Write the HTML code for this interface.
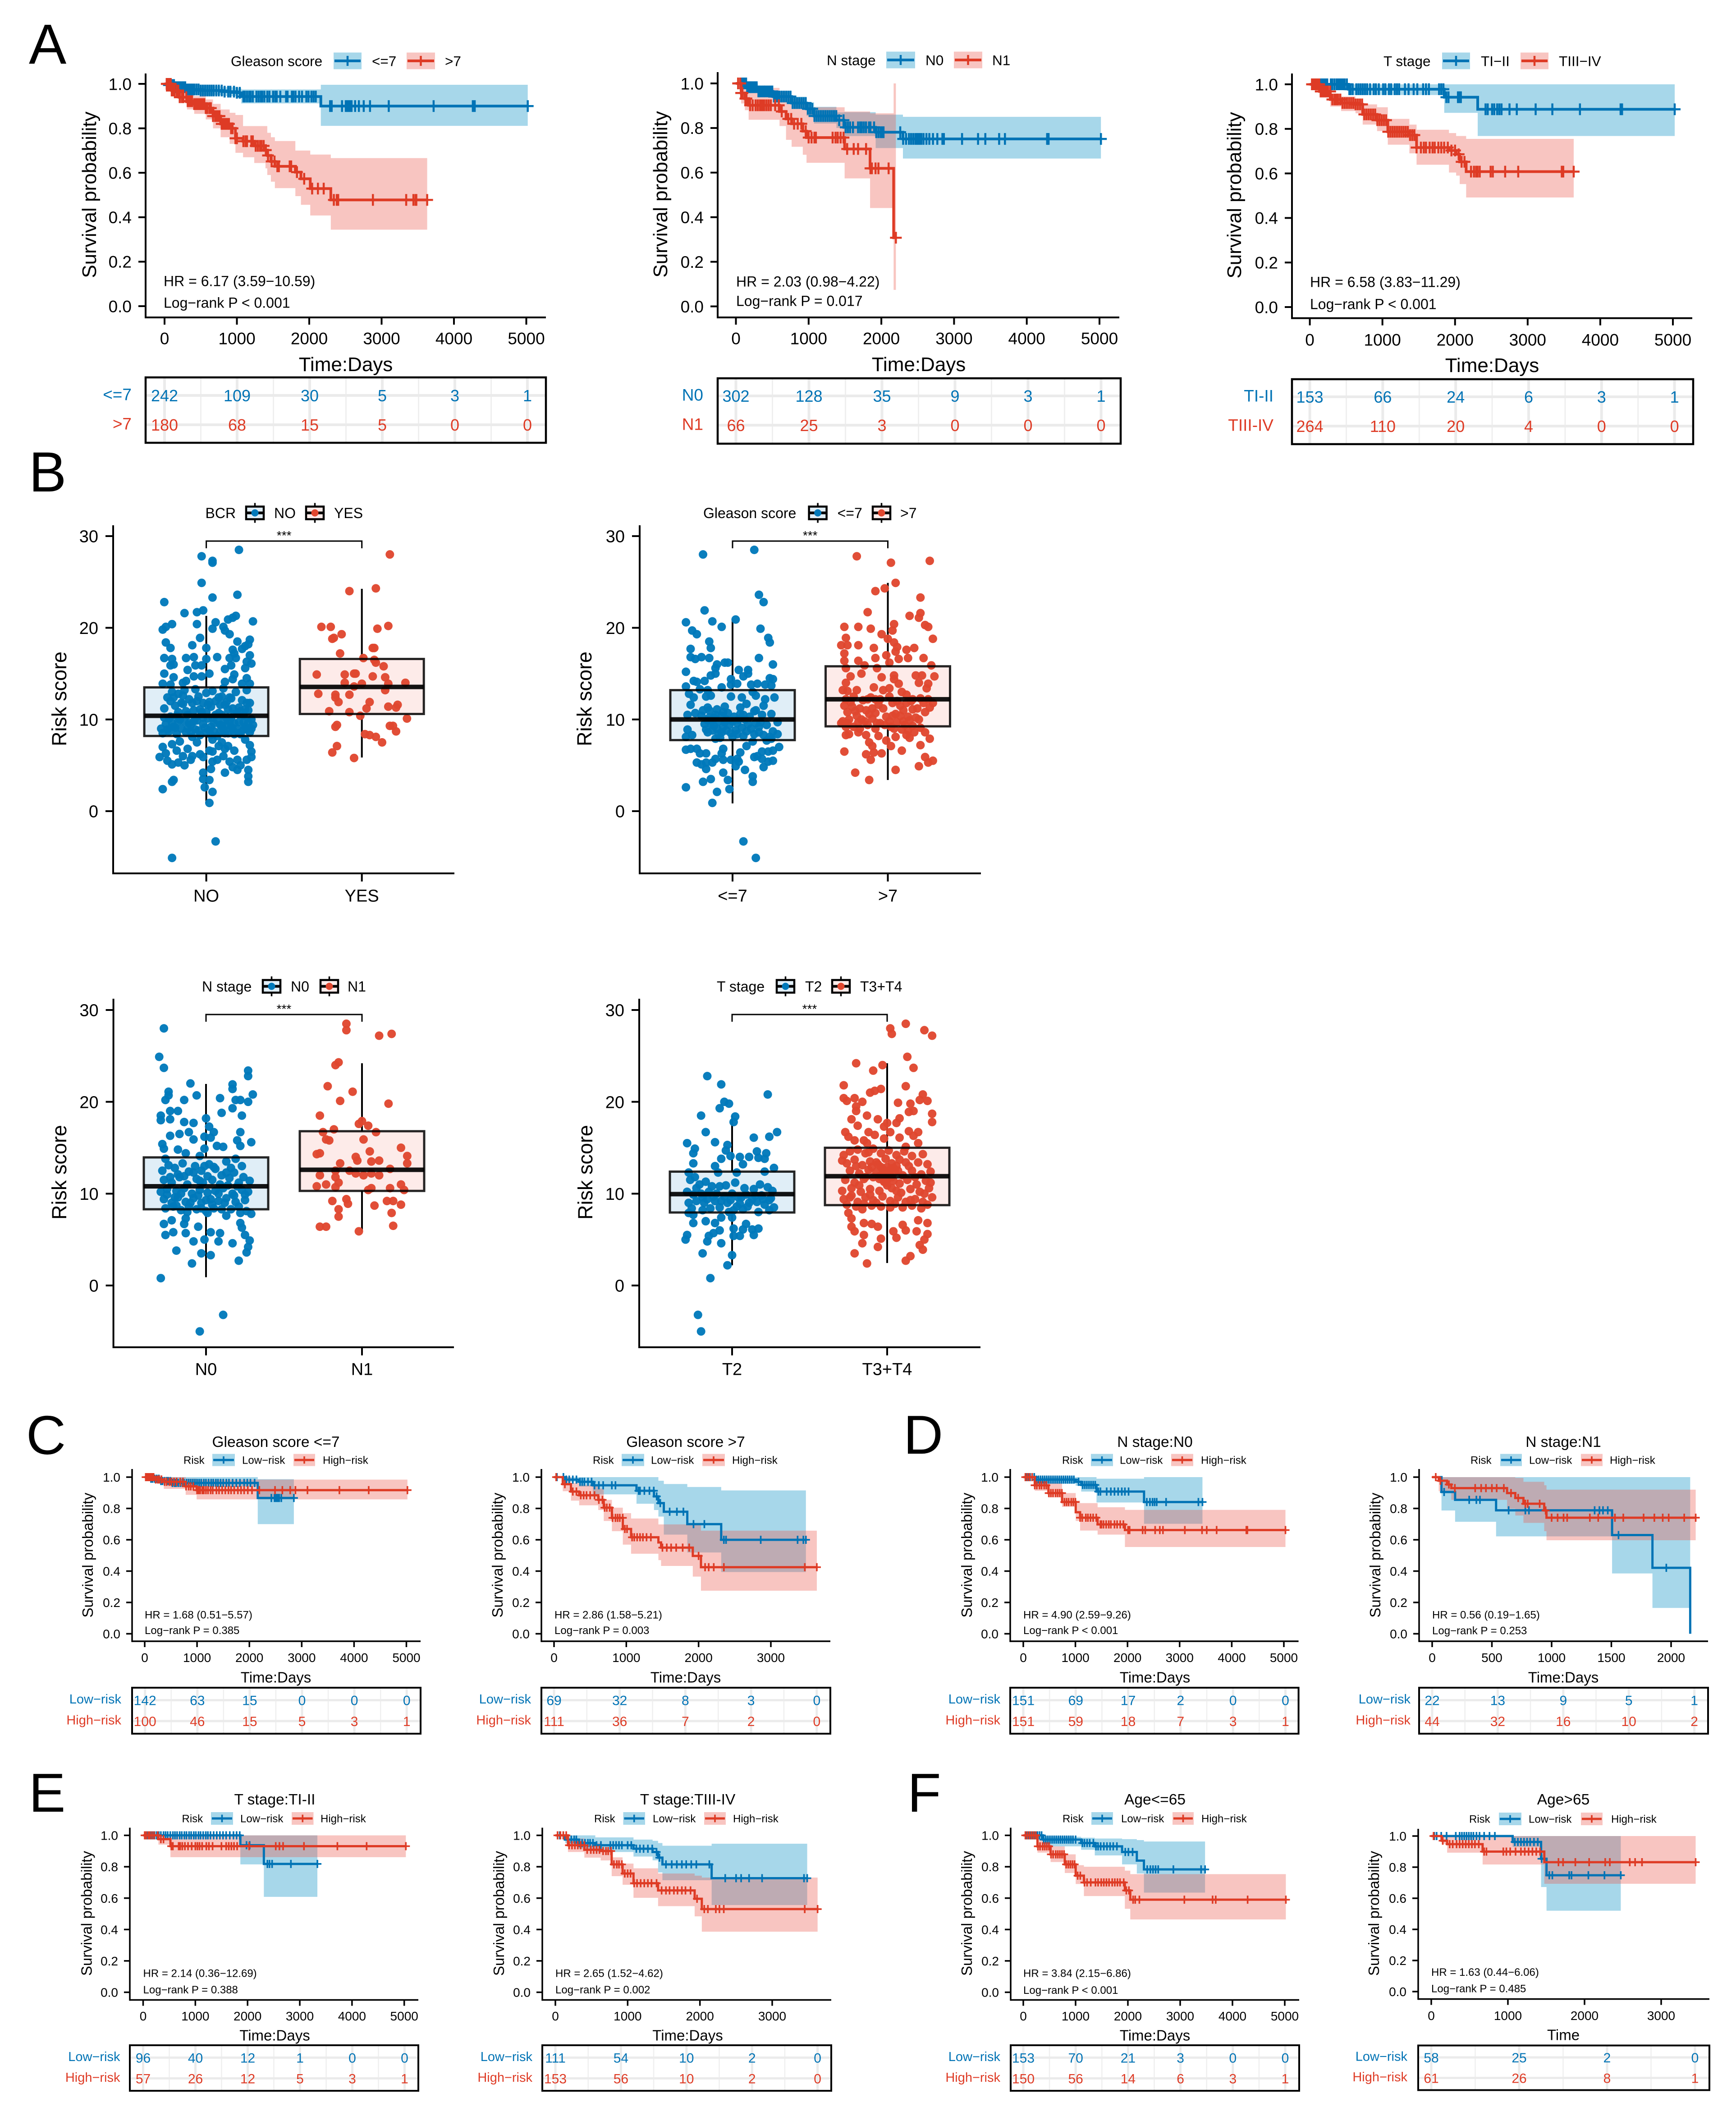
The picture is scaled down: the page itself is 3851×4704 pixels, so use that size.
<!DOCTYPE html>
<html lang="en">
<head>
<meta charset="utf-8">
<title>Survival and risk score figure</title>
<style>
html,body{margin:0;padding:0;background:#fff}
svg{display:block;font-family:"Liberation Sans",Arial,sans-serif}
</style>
</head>
<body>
<svg id="figure" xmlns="http://www.w3.org/2000/svg" width="3851" height="4704" viewBox="0 0 3851 4704">
<rect x="0" y="0" width="3851" height="4704" fill="#ffffff"/>
</svg>
<script>
/* ---------- Panel A data ---------- */
const a1LowT=[0,60,150,300,500,800,1000,1060,2160];
const a1LowS=[1,.995,.985,.975,.97,.965,.96,.943,.90];
const a1LowLo=[1,.985,.97,.955,.95,.945,.94,.912,.811];
const a1LowHi=[1,1,1,.995,.99,.985,.98,.975,.996];
const a1LowC=[60,75,90,110,130,150,170,190,210,235,260,285,310,335,360,385,410,440,470,500,530,560,590,620,650,680,715,750,790,830,880,910,960,1000,1040,1090,1110,1140,1170,1190,1220,1270,1300,1330,1350,1380,1420,1450,1500,1530,1550,1600,1680,1700,1760,1780,1810,1860,1900,1960,1990,2030,2060,2090,2288,2310,2453,2505,2525,2545,2565,2585,2634,2686,2753,2840,3099,3719,4261,4287,5020];
const a1HighT=[0,100,200,310,410,570,670,775,900,980,1085,1240,1395,1420,1470,1525,1808,1885,2014,2298];
const a1HighS=[1,.97,.94,.922,.909,.891,.855,.82,.80,.755,.742,.721,.702,.678,.651,.629,.603,.573,.529,.478];
const a1HighLo=[1,.95,.915,.885,.865,.84,.80,.76,.73,.69,.67,.644,.62,.59,.56,.531,.495,.456,.408,.344];
const a1HighHi=[1,.99,.97,.955,.945,.93,.91,.885,.87,.86,.81,.81,.81,.78,.76,.743,.70,.70,.682,.666];
const a1HighC=[30,50,70,85,100,120,140,170,190,210,240,260,300,320,340,360,380,410,430,450,470,490,510,530,550,570,590,620,640,670,700,720,740,760,790,810,830,850,870,890,920,940,980,1000,1090,1120,1140,1200,1220,1260,1290,1320,1340,1370,1400,1430,1480,1520,1560,1580,1730,1750,1830,1930,2040,2120,2200,2340,2380,2400,2880,3340,3440,3470,3480,3630];
const a1LowN=[242,109,30,5,3,1];
const a1HighN=[180,68,15,5,0,0];

const a2LowT=[0,150,303,509,766,971,1074,1382,1485,1922,2297];
const a2LowS=[1,.983,.964,.941,.912,.886,.854,.835,.803,.781,.751];
const a2LowLo=[1,.965,.94,.915,.885,.855,.82,.80,.764,.71,.663];
const a2LowHi=[1,1,.985,.965,.94,.915,.895,.87,.871,.86,.85];
const a2LowC=[60,70,80,95,110,125,140,155,170,190,205,225,245,265,285,310,330,355,380,400,425,450,475,500,525,550,575,600,630,660,690,720,750,780,810,840,870,900,930,960,990,1020,1050,1080,1110,1140,1170,1200,1230,1260,1290,1320,1350,1380,1420,1480,1510,1540,1570,1610,1680,1710,1730,1760,1790,1830,1850,1900,1930,1960,1990,2010,2030,2260,2300,2340,2380,2410,2440,2470,2490,2510,2530,2550,2580,2620,2660,2710,2770,2840,2860,3110,3330,3430,3620,3700,4280,4290,4300,5020];
const a2HighT=[0,72,123,175,600,689,766,920,971,1495,1845,2169];
const a2HighS=[1,.957,.932,.902,.874,.841,.819,.786,.757,.706,.619,.308];
const a2HighLo=[1,.91,.88,.837,.809,.747,.716,.68,.644,.574,.441,.074];
const a2HighHi=[1,1,.985,.98,.96,.945,.93,.91,.893,.874,.866,1];
const a2HighC=[30,60,72,90,130,145,195,230,270,300,330,350,370,390,420,450,480,540,590,630,720,760,800,850,900,960,1000,1040,1080,1100,1330,1370,1400,1440,1480,1530,1620,1680,1790,1850,1870,1920,1960,2100,2200];
const a2LowN=[302,128,35,9,3,1];
const a2HighN=[66,25,3,0,0,0];

const a3LowT=[0,530,1851,2312];
const a3LowS=[1,.978,.942,.888];
const a3LowLo=[1,.952,.872,.768];
const a3LowHi=[1,1,1,1];
const a3LowC=[60,75,90,105,130,150,170,190,215,240,290,310,340,370,385,400,420,440,460,480,510,545,560,590,640,670,700,730,760,790,830,880,910,950,1010,1040,1090,1120,1170,1200,1230,1310,1360,1430,1480,1560,1600,1640,1780,1810,1840,1880,1910,2040,2060,2080,2420,2450,2510,2540,2580,2610,2640,2750,2850,3110,3340,3720,4280,4300,5025];
const a3HighT=[0,134,282,431,629,728,926,1074,1371,1470,1916,2015,2064,2153];
const a3HighS=[1,.968,.932,.916,.91,.865,.839,.787,.772,.716,.703,.686,.652,.608];
const a3HighLo=[1,.94,.90,.88,.87,.819,.79,.729,.69,.639,.604,.59,.552,.492];
const a3HighHi=[1,.985,.955,.945,.935,.91,.897,.845,.819,.796,.781,.768,.768,.755];
const a3HighC=[30,50,70,85,100,115,130,150,175,200,225,250,280,310,340,365,390,420,450,480,510,540,570,600,630,660,690,720,750,780,810,840,870,900,930,960,990,1020,1050,1080,1110,1140,1170,1200,1230,1260,1290,1320,1350,1380,1410,1440,1470,1530,1570,1600,1650,1690,1720,1770,1810,1850,1900,1950,2000,2050,2090,2130,2220,2260,2290,2310,2340,2490,2520,2690,2870,3470,3490,3634];
const a3LowN=[153,66,24,6,3,1];
const a3HighN=[264,110,20,4,0,0];

/* ---------- Panel C data ---------- */
const c1LowT=[0,100,300,500,2160];
const c1LowS=[1,.99,.975,.963,.867];
const c1LowLo=[1,.98,.955,.94,.70];
const c1LowHi=[1,1,1,1,.987];
const c1LowC=[60,90,120,150,190,230,270,310,340,380,420,450,490,530,570,600,640,680,720,750,800,840,880,920,960,1000,1040,1080,1130,1170,1220,1270,1310,1360,1400,1450,1500,1560,1610,1680,1750,1820,1900,1960,2020,2100,2420,2480,2510,2540,2570,2610,2850];
const c1HighT=[0,200,365,783,992];
const c1HighS=[1,.985,.97,.941,.917];
const c1HighLo=[1,.96,.925,.887,.858];
const c1HighHi=[1,1,1,.99,.984];
const c1HighC=[20,50,80,110,140,170,210,250,280,320,380,420,470,510,560,610,680,730,790,840,880,930,1000,1030,1060,1100,1130,1170,1210,1260,1300,1370,1420,1480,1540,1600,1650,1710,1780,1840,1900,1970,2050,2190,2490,2630,2780,2880,3110,3720,4280,5020];
const c1LowN=[142,63,15,0,0,0];
const c1HighN=[100,46,15,5,3,1];

const c2LowT=[0,159,348,537,1141,1383,1444,1519,1844,2313];
const c2LowS=[1,.984,.97,.948,.913,.877,.834,.779,.70,.60];
const c2LowLo=[1,.97,.94,.89,.83,.79,.748,.633,.519,.394];
const c2LowHi=[1,1,1,1,1,1,.977,.956,.937,.915];
const c2LowC=[40,130,170,210,260,310,360,390,420,470,520,560,620,680,800,850,1170,1190,1250,1320,1380,1420,1470,1600,1700,1790,1930,2080,2350,2380,2860,3370,3450,3485];
const c2HighT=[0,121,234,348,612,688,801,952,1066,1444,1481,1920,2033];
const c2HighS=[1,.955,.908,.884,.855,.805,.74,.669,.616,.583,.55,.497,.425];
const c2HighLo=[1,.91,.85,.82,.79,.72,.655,.569,.511,.47,.433,.365,.275];
const c2HighHi=[1,1,.963,.95,.927,.855,.805,.77,.736,.698,.698,.698,.658];
const c2HighC=[30,150,260,310,370,410,450,500,560,620,670,700,730,770,810,850,880,910,950,980,1010,1080,1110,1150,1190,1230,1280,1340,1500,1560,1620,1690,1780,1870,2000,2090,2140,2210,2350,3470,3636];
const c2LowN=[69,32,8,3,0];
const c2HighN=[111,36,7,2,0];

/* ---------- Panel D data ---------- */
const d1LowT=[0,220,1006,1111,1405,2317];
const d1LowS=[1,.984,.97,.95,.908,.841];
const d1LowLo=[1,.958,.945,.908,.838,.702];
const d1LowHi=[1,1,1,1,.99,1];
const d1LowC=[60,90,130,170,210,250,290,330,370,410,450,490,530,570,610,650,690,730,770,810,850,890,930,970,1060,1140,1180,1220,1260,1300,1340,1380,1440,1480,1600,1680,1750,1820,1890,1950,2020,2370,2430,2480,2520,2560,2740,3360,3438];
const d1HighT=[0,220,482,744,1006,1090,1426,1950];
const d1HighS=[1,.948,.898,.841,.776,.741,.698,.662];
const d1HighLo=[1,.913,.87,.81,.72,.659,.633,.554];
const d1HighHi=[1,.985,.963,.898,.85,.834,.808,.791];
const d1HighC=[40,80,120,170,220,260,310,350,400,440,490,530,570,620,660,700,740,790,830,870,920,960,1000,1090,1130,1200,1240,1290,1340,1400,1480,1500,1540,1590,1640,1680,1750,1800,1860,1920,2010,2040,2290,2340,2530,2620,2680,3100,3430,3520,3710,4280,4300,5031];
const d1LowN=[151,69,17,2,0,0];
const d1HighN=[151,59,18,7,3,1];

const d2LowT=[0,78,192,535,1506,1844,2160];
const d2LowS=[1,.905,.855,.788,.63,.421,0];
const d2LowLo=[1,.787,.715,.622,.385,.165,0];
const d2LowHi=[1,1,1,1,1,1,1];
const d2LowC=[100,310,370,400,640,780,810,1360,1400,1430,1470,1560,1960];
const d2HighT=[0,55,124,160,627,696,764,938,957];
const d2HighS=[1,.977,.953,.93,.898,.867,.83,.787,.741];
const d2HighLo=[1,.91,.898,.855,.798,.755,.708,.655,.597];
const d2HighHi=[1,1,1,1,1,.995,.97,.948,.92];
const d2HighC=[30,70,140,190,360,410,450,500,540,600,660,720,780,800,900,950,1000,1050,1100,1130,1320,1390,1530,1600,1770,1860,1930,1980,2110,2206];
const d2LowN=[22,13,9,5,1];
const d2HighN=[44,32,16,10,2];

/* ---------- Panel E data ---------- */
const e1LowT=[0,1862,2312];
const e1LowS=[1,.937,.818];
const e1LowLo=[1,.815,.608];
const e1LowHi=[1,1,1];
const e1LowC=[60,90,120,150,180,220,260,300,340,390,430,470,520,570,610,650,700,740,790,830,880,920,970,1010,1060,1100,1150,1200,1240,1290,1350,1410,1470,1530,1590,1660,1730,1790,1850,1980,2040,2380,2420,2470,2830,3337];
const e1HighT=[0,293,523];
const e1HighS=[1,.976,.931];
const e1HighLo=[1,.941,.861];
const e1HighHi=[1,1,1];
const e1HighC=[30,60,100,130,170,210,280,340,390,540,570,680,710,750,800,860,930,1000,1040,1080,1130,1210,1260,1330,1500,1590,1640,1690,1740,1800,2030,2540,2610,2680,3080,3720,4280,5031];
const e1LowN=[96,40,12,1,0,0];
const e1HighN=[57,26,12,5,3,1];

const e2LowT=[0,136,325,552,1081,1345,1421,1481,2162];
const e2LowS=[1,.973,.951,.937,.915,.894,.858,.815,.727];
const e2LowLo=[1,.95,.915,.894,.865,.841,.764,.714,.556];
const e2LowHi=[1,1,1,.987,.973,.965,.951,.934,.947];
const e2LowC=[60,110,170,220,260,290,330,370,410,450,480,520,570,630,760,800,840,880,920,1000,1050,1120,1170,1220,1280,1340,1400,1440,1530,1610,1680,1750,1810,1880,1950,2130,2350,2500,2570,2680,2860,3440,3484];
const e2HighT=[0,174,401,627,779,930,1081,1421,1927,2026];
const e2HighS=[1,.937,.908,.90,.815,.757,.695,.649,.596,.53];
const e2HighLo=[1,.894,.858,.84,.74,.685,.602,.549,.484,.386];
const e2HighHi=[1,.98,.95,.91,.86,.82,.79,.757,.743,.731];
const e2HighC=[30,70,110,150,190,230,270,310,350,400,440,490,530,570,610,660,700,730,770,810,850,880,920,960,1000,1040,1090,1130,1180,1230,1280,1330,1400,1470,1530,1580,1640,1690,1750,1800,1870,1960,2060,2110,2220,2270,2330,3450,3628];
const e2LowN=[111,54,10,2,0];
const e2HighN=[153,56,10,2,0];

/* ---------- Panel F data ---------- */
const f1LowT=[0,376,1106,1367,1889,2171,2307];
const f1LowS=[1,.973,.951,.93,.894,.839,.783];
const f1LowLo=[1,.93,.908,.872,.815,.757,.635];
const f1LowHi=[1,.991,.985,.98,.976,.97,.961];
const f1LowC=[60,100,140,180,230,270,310,350,390,430,470,510,550,590,630,670,710,750,790,830,870,910,950,1000,1130,1170,1220,1270,1340,1390,1430,1480,1540,1600,1660,1720,1790,1950,2010,2090,2370,2430,2480,2530,2580,2870,3400,3476];
const f1HighT=[0,271,522,793,1002,1159,1942,2046];
const f1HighS=[1,.93,.879,.815,.743,.70,.649,.59];
const f1HighLo=[1,.89,.83,.76,.69,.613,.532,.464];
const f1HighHi=[1,.975,.93,.879,.81,.80,.775,.753];
const f1HighC=[40,80,120,160,200,240,280,320,370,410,450,490,530,570,620,660,700,740,780,820,860,900,940,980,1040,1090,1170,1220,1290,1380,1430,1490,1540,1590,1640,1700,1750,1800,1850,1920,1970,2020,2100,2140,2220,3080,3620,3680,4290,5021];
const f1LowN=[153,70,21,3,0,0];
const f1HighN=[150,56,14,6,3,1];

const f2LowT=[0,1062,1433,1504];
const f2LowS=[1,.962,.854,.748];
const f2LowLo=[1,.93,.672,.52];
const f2LowHi=[1,1,1,1];
const f2LowC=[40,70,130,200,320,370,400,430,460,490,520,550,590,630,690,760,830,1090,1130,1170,1210,1250,1290,1340,1390,1440,1540,1580,1800,1830,2050,2260,2473];
const f2HighT=[0,135,207,670,1475];
const f2HighS=[1,.97,.948,.90,.832];
const f2HighLo=[1,.95,.893,.817,.693];
const f2HighHi=[1,1,1,1,1];
const f2HighC=[30,150,240,280,330,370,410,450,490,530,570,620,690,720,940,980,1030,1100,1170,1220,1270,1320,1370,1420,1660,1720,1880,2060,2270,2330,2590,2660,2750,3450];
const f2LowN=[58,25,2,0];
const f2HighN=[61,26,8,1];

/* ---------- Panel B data: [jitter % of category spacing, risk score] ---------- */
const bcrNoPoints=[[21,28.5],[-3,27.8],[4,27.3],[4,27.1],[-3,24.9],[20,23.6],[4,23.3],[-27,22.8],[-2,21.9],[-6,21.7],[-14,21.6],[19,21.3],[17,21.1],[14,20.9],[30,20.7],[6,20.6],[-22,20.4],[-6,20.4],[-26,20.1],[-28,19.8],[4,19.9],[11,20.1],[12,19.7],[15,19.3],[-4,18.9],[28,18.7],[20,18.5],[-26,18.4],[27,18.2],[-9,18.1],[25,18],[-23,17.8],[0,17.8],[17,17.6],[23,17.7],[18,17.2],[28,17],[-27,16.7],[-22,16.6],[-13,16.7],[-8,16.8],[0,16.6],[7,16.8],[15,16.7],[19,16.7],[26,16.3],[29,16.1],[-21,16],[-23,15.9],[-7,15.9],[-3,15.9],[16,15.9],[25,15.6],[-12,15.4],[12,15.5],[-27,15],[2,15],[18,14.9],[-8,14.7],[-3,14.7],[-21,14.6],[26,14.5],[-13,14.2],[17,14.4],[12,14.1],[-15,14],[28,13.9],[-28,13.9],[-23,13.8],[23,13.9],
[-29,9],[-28,8.5],[-27,11.2],[-26,9.5],[-25,12.4],[-24,8.7],[-23,10.3],[-22,13],[-21,9.2],[-20,11.5],[-19,8.4],[-18,12.8],[-17,10],[-16,9],[-15,11.7],[-14,13.2],[-13,8.6],[-12,10.5],[-11,12.2],[-10,9.4],[-9,8.1],[-8,11],[-7,13.3],[-6,9.9],[-5,12.5],[-4,8.3],[-3,10.8],[-2,11.8],[-1,9.1],[0,12.9],[1,10.1],[2,8.8],[3,11.4],[4,13.1],[5,9.6],[6,12],[7,8.2],[8,10.7],[9,11.6],[10,9.3],[11,13.4],[12,8.5],[13,10.2],[14,11.1],[15,9.8],[16,12.3],[17,8.9],[18,10.6],[19,13],[20,9],[21,11.3],[22,8.4],[23,12.1],[24,10.4],[25,9.2],[26,13.2],[27,11],[28,8.6],[29,10],[30,9.4],[-24,10.1],[-18,9.8],[-11,9.6],[-7,8.9],[3,9.2],[9,8.7],[13,9.4],[18,8.4],[24,8.9],[-2,10.2],[6,10.5],[12,11.6],[16,10.2],[21,9.7],[26,11.8],[-15,12.6],[-6,12],[1,11.6],[10,12.5],[-21,12.4],
[-27,10.2],[-25,8.9],[-23,12],[-22,9.6],[-20,9.1],[-18,10.8],[-16,11.8],[-14,9.8],[-13,10.9],[-10,8.7],[-9,11.8],[-7,10.2],[-5,8.8],[-4,11.1],[-2,9.5],[0,10.8],[0,8.6],[2,11.9],[4,10.2],[5,8.7],[7,9.9],[8,12.4],[10,10.5],[11,8.9],[12,9.9],[14,8.5],[15,12.4],[16,9.2],[17,11.2],[18,9.6],[20,10.6],[21,8.5],[22,10.9],[24,9.7],[25,11.1],[26,8.9],[27,9.7],[28,11.8],[29,9],[-19,10.4],[-12,9],[-8,9.8],[3,8.3],[9,9.4],[13,11.9],
[-28,7],[-22,7.3],[-17,7.6],[-26,6.3],[-30,5.9],[-19,6.6],[-12,6.8],[-9,6],[-15,6],[-25,5.5],[-22,5.1],[-18,5.3],[-14,5],[-10,5.6],[-4,6.2],[-2,5.9],[2,6.6],[4,6.5],[7,5.6],[4,5.4],[3,4.6],[11,6],[15,5.4],[17,4.8],[22,5],[20,4.5],[12,4.2],[27,4.5],[27,3.8],[27,3.2],[-2,4.2],[-2,3.5],[2,3.4],[-21,3.4],[-22,3.2],[-28,2.4],[-1,2.6],[4,2.1],[2,.9],[6,-3.3],[-22,-5.1],[10,7.5],[14,7.1],[18,6.6],[25,7.8],[28,7.2],[29,6.5],[29,5.9],[26,5.6],[20,5.6],[12,6.8],[8,7.1],[-6,7.5],[4,7.8]];
const bcrYesPoints=[[18,28],[9,24.3],[-8,24],[17,20.2],[-26,20.1],[-20,20.1],[10,19.9],[-13,19.3],[-18,18.9],[-19,18.8],[7,17.8],[8,17.8],[-14,17.2],[1,16.7],[8,16.5],[9,16.2],[14,15.8],[-29,14.9],[-11,14.9],[-5,15],[-4,15],[7,14.7],[15,14.6],[-11,14],[0,13.9],[17,13.9],[28,14],[-5,13.6],[15,13.2],[-28,12.8],[-8,12.7],[-17,12.7],[-17,12.4],[-15,11.9],[5,11.9],[3,11.2],[-21,10.9],[-8,10.8],[17,11.4],[23,11.6],[22,11.3],[-1,10.4],[29,10.1],[-16,9.4],[-17,9.2],[18,9.3],[20,9.3],[22,8.7],[2,8.4],[5,8.3],[9,8.1],[13,7.5],[-16,7.1],[-19,6.4],[-5,5.8]];
const gleasonLowPoints=[[14,28.5],[-19,28],[17,23.6],[20,22.8],[-18,21.9],[2,20.9],[-13,20.7],[-30,20.6],[-7,20.1],[18,19.9],[-26,19.7],[-23,19.3],[23,18.9],[-15,18.5],[24,18.4],[-14,17.8],[-27,17.7],[17,16.7],[-27,16.8],[-24,16.6],[-20,16.8],[-15,16.7],[-5,16.2],[-3,16.2],[26,16],[-10,16],[-11,15.6],[4,15.4],[10,15.4],[-30,15.2],[7,14.7],[10,15],[-11,15],[-14,14.8],[24,14.5],[26,14.4],[-1,14.4],[-18,14.2],[-25,14.2],[-23,14.1],[3,13.9],[-1,13.8],[16,13.9],[12,13.8],[21,13.8],[25,13.7],[-30,13.6],[-7,13.5],[-21,13.3],[-16,13.2],
[-28,12.8],[-25,12.4],[-17,12.5],[-14,12.6],[-1,12.5],[6,12.4],[13,13],[15,12.6],[21,12.2],[27,12.4],[-27,11.6],[-16,11.3],[-15,11],[-5,11.4],[-6,10.8],[5,11.3],[5,10.6],[14,10.9],[15,11],[20,11.5],[-29,10.5],[-24,10.7],[-20,10.4],[-11,10.5],[-7,10.4],[1,10.3],[8,10],[19,10.5],[25,10.6],[-16,9.9],[-14,9.6],[-12,9.3],[-9,9.8],[-5,9.7],[3,9.6],[10,9.5],[18,9.7],[29,9.7],[-29,8.9],[-17,8.9],[-13,8.8],[-7,8.6],[-4,8.8],[-1,8.5],[3,8.4],[7,8.2],[17,8.6],[24,8.1],[29,8.4],[-30,8.1],[-26,8.3],[-11,7.9],[-8,8],[0,8.1],[13,7.6],[22,7.7],[25,7.9],
[-18,9.5],[-16,8.6],[-15,10.2],[-13,9.9],[-12,10.2],[-10,9],[-9,8.4],[-6,9.2],[-4,10],[-2,9.4],[0,9.8],[2,8.8],[4,10],[6,9.1],[7,10.5],[9,8.7],[11,10.3],[12,9],[14,8.4],[15,9.6],[17,9.2],[20,8.3],[22,9.4],[26,8.7],[-3,10.7],[-19,11],[-10,11.1],[9,11.7],
[-30,6.7],[-27,6.8],[-23,6.8],[-21,6.3],[-17,6.3],[-6,6.8],[-7,6.3],[5,6.4],[9,7.1],[19,6.5],[23,6.5],[26,6.6],[30,7],[-23,5.3],[-20,5.1],[-17,5.3],[-13,5.3],[-11,5.7],[-6,5.6],[-1,5.6],[3,5.7],[2,4.9],[4,5.4],[14,5.9],[16,6],[19,5.7],[20,4.8],[23,5.4],[26,5.5],[-17,4.6],[8,4.5],[-6,4.2],[13,3.8],[13,3.2],[-3,3.4],[-14,3.5],[-19,3.2],[-30,2.6],[-2,2.4],[-10,2.1],[-13,.9],[7,-3.3],[15,-5.1]];
const gleasonHighPoints=[[-20,27.8],[2,27.1],[27,27.3],[5,24.9],[-2,24.3],[-8,24],[21,23.3],[-13,21.7],[21,21.6],[14,21.3],[20,21.1],[4,20.4],[24,20.3],[-28,20.1],[-19,20.1],[-11,19.9],[26,20.1],[3,19.7],[-4,19.3],[-27,18.9],[0,18.8],[29,18.8],[4,18.4],[-30,18.1],[-26,18.1],[-19,18.1],[6,17.9],[-9,17.8],[17,17.8],[12,17.6],[5,17.4],[-28,17.2],[-1,17],[23,16.7],[-8,16.7],[7,16.6],[13,16.7],[-28,16.4],[-19,16.4],[1,16.2],[-15,15.9],[28,15.9],[-7,15.6],[-27,15.6],[-17,15],[4,14.8],[-24,14.7],[-4,14.6],[18,14.8],[22,14.8],[30,14.7],[4,14.4],[-27,14],[20,14],[26,13.9],[7,13.9],
[-29,13.2],[-26,13.1],[-20,13.2],[-9,13.5],[-3,13.2],[1,13.4],[9,13],[12,12.7],[25,13.4],[-27,12.2],[-22,12.5],[-16,12.1],[-11,12.4],[-8,12.2],[-5,12.2],[1,12.5],[16,12.2],[21,12.3],[26,12.2],[29,11.8],[-28,11.5],[-23,11.4],[-18,11.2],[-14,11],[-6,11.6],[8,11.5],[12,11.8],[16,11.1],[19,11.2],[24,10.8],[-26,10.8],[-20,10.4],[-8,10.7],[3,10.4],[5,10.6],[13,10.3],[18,10.2],[-29,9.8],[-25,10],[-15,9.8],[-10,10.1],[-5,9.6],[-2,9.4],[6,9.7],[10,9.8],[-30,9.6],[-27,9.2],[-22,9.2],[-18,9],[-8,9],[2,9.2],[9,8.9],[13,8.8],[17,8.6],[21,9.1],
[-24,11.9],[-21,10.9],[-19,9.7],[-17,10],[-13,12.2],[-12,10.6],[-10,11.2],[-7,9.6],[-3,11.2],[-1,10.3],[1,9.8],[3,11.8],[6,12],[8,10.4],[10,11],[11,9.4],[14,9.9],[15,12],[20,10],[23,11.8],[27,11.3],[-26,9.6],[-13,9.4],[4,9],[16,9.3],
[-28,6.5],[9,6.6],[-14,8.3],[-12,7.5],[-10,7.1],[-9,6.4],[-4,6.3],[-14,6.2],[-11,5.6],[2,7.1],[-1,7.7],[21,7.2],[27,7.9],[14,8],[24,5.9],[29,5.5],[26,5.3],[20,4.9],[5,4.5],[-21,4.2],[-12,3.4],[-25,8.4],[-27,8.3],[-19,8.6],[-6,8.2],[5,8.1],[12,8.3],[24,8.6]];
const nstageLowPoints=[[-27,28],[-30,24.9],[-27,23.7],[27,23.4],[27,22.8],[-10,22],[17,21.9],[17,21.4],[-24,21.1],[30,20.8],[-6,20.7],[-24,20.7],[9,20.4],[-26,20.2],[-14,20.2],[19,20.2],[22,20.2],[27,20],[17,19.3],[-18,19],[-23,19],[10,18.8],[23,18.5],[-29,18.5],[-29,18],[-23,18.1],[0,18.2],[-14,17.8],[-8,17.7],[2,17.3],[5,16.7],[-11,16.7],[22,16.7],[-23,16.3],[-17,16.5],[-1,16.2],[-8,15.9],[3,16.1],[29,15.6],[20,15.8],[-28,15.4],[7,15.2],[11,15.1],[22,15.2],[-27,14.9],[-18,14.8],[-1,14.9],[-13,14.4],[-4,14.1],[-26,13.8],[19,13.8],
[-28,12.5],[-24,13.1],[-20,12.8],[-15,13.3],[-11,12.4],[-7,13],[-3,12.5],[2,13.2],[6,12.7],[13,13.5],[18,12.3],[23,13],[-27,11.5],[-22,11.2],[-17,11.8],[-12,11],[-6,11.6],[-2,11.2],[4,11.5],[9,11],[15,11.7],[21,11.2],[28,11.4],[-29,10.2],[-25,10.5],[-19,10.3],[-14,10.6],[-9,10],[-4,10.4],[1,10.1],[6,10.3],[11,10.6],[17,10],[23,10.4],[27,10.2],[-27,9.4],[-22,9],[-18,9.6],[-13,9.1],[-8,9.5],[-3,9],[3,9.4],[8,9.2],[13,9.5],[19,9.1],[25,9.3],[-26,8.4],[-21,8.6],[-16,8.2],[-11,8.6],[-6,8.3],[0,8.1],[5,8.4],[16,8.3],[21,8.6],[26,8.1],[29,7.8],[-12,8],[1,7.9],[22,7.9],
[-25,9.9],[-23,11.8],[-20,9.6],[-18,12.1],[-16,10],[-14,11.9],[-10,9],[-8,12.3],[-5,9.8],[-4,11.4],[-1,13],[0,9.3],[1,11.9],[4,8.8],[5,12.9],[8,10],[10,12],[12,9],[14,10.9],[16,12.8],[18,9.8],[20,10.8],[24,11.8],[25,9.9],[-3,8.4],[10,8.3],[13,12.3],[-19,8.7],
[-27,6.7],[-22,7.1],[-13,7.3],[-14,6.7],[-5,6.4],[13,7.6],[22,6.8],[23,6.3],[-26,5.5],[-21,5.8],[-13,5.7],[3,5.8],[9,5.7],[25,5.5],[28,4.9],[-1,5],[-8,4.8],[8,4.8],[17,4.6],[27,4.2],[-19,3.8],[-3,3.5],[3,3.3],[26,3.6],[21,2.7],[-9,2.4],[-29,.8],[11,-3.2],[-4,-5]];
const nstageHighPoints=[[-10,28.5],[-10,27.8],[11,27.2],[19,27.4],[-15,24.3],[-17,24],[-22,21.7],[-6,21.1],[-14,20.1],[17,19.8],[-27,18.5],[0,17.9],[-2,17.6],[4,17.4],[-18,17],[9,16.7],[-25,16.7],[-23,15.9],[-21,15.8],[1,15.9],[25,15],[5,14.6],[-29,14.3],[-27,14.4],[29,14.1],[-4,14],[-3,13.6],[11,13.6],[6,13.5],[-14,13.3],[29,13.3],[18,12.7],[-17,12.5],[-8,12.5],[-4,12.2],[1,12],[6,12.2],[11,12],[-27,12],[-17,11.8],[-15,11.2],[-23,11],[-29,10.8],[-17,10.7],[6,10.6],[25,11],[18,10.6],[4,10.4],[27,10.4],[-19,9.2],[-10,9.4],[-9,8.9],[16,9.2],[20,9.2],[8,8.7],[25,8.8],[-15,8.3],[19,7.9],[-15,7.5],[20,6.5],[-27,6.4],[-23,6.4],[-2,5.9]];
const tstageLowPoints=[[-16,22.8],[-7,21.9],[23,20.8],[-5,20],[-2,19.8],[-8,19.3],[-20,18.5],[2,18.4],[1,17.8],[29,16.7],[-17,16.7],[24,16.2],[14,16.1],[-11,15.6],[-29,15.5],[-3,15.3],[-24,14.9],[-25,14.4],[-4,14.7],[16,14.6],[22,14.4],[-1,14.1],[5,14],[11,14],[17,13.9],[-7,13.8],[21,13.8],[-25,13.3],[-11,13],[7,13.2],[27,12.8],[21,12.4],[-28,12.3],[-9,12.3],[3,12.3],
[-27,11.5],[-24,11.8],[-21,11],[-17,11.3],[-13,10.8],[-8,10.8],[-4,10.9],[2,11.2],[8,10.6],[14,10.5],[18,11],[23,10.7],[26,10.3],[-29,10.2],[-25,9.9],[-20,10],[-15,10.2],[-10,10],[-5,9.7],[0,10],[4,9.6],[9,9.9],[13,9.4],[19,9.8],[25,9.5],[-28,9],[-23,9.2],[-18,9],[-11,9.2],[-3,9],[5,8.9],[11,9],[16,9.1],[21,8.8],[27,8.5],[-26,8.4],[-19,8.2],[-14,8.4],[-8,8.5],[1,8.2],[7,8.3],[17,8],[24,8.2],[-28,7.9],[-25,7.7],[-2,8],
[-23,10.6],[-19,9.6],[-16,9.4],[-12,9.7],[-7,9.2],[-1,9.3],[3,8.6],[6,9.6],[10,8.6],[15,9.8],[20,9.4],[24,9.3],
[-25,6.8],[-17,7],[-11,6.8],[-7,7.4],[0,7.4],[9,6.7],[1,6.2],[7,6.1],[13,6.1],[17,6.2],[-8,6],[-12,5.7],[-15,5.4],[-29,5.5],[-30,5],[-16,4.8],[1,5.4],[5,5.4],[-7,4.6],[14,5.5],[-19,3.5],[0,3.3],[-3,2.2],[-14,.8],[-22,-3.2],[-20,-5]];
const tstageHighPoints=[[12,28.5],[2,28],[24,27.8],[3,27.4],[29,27.2],[13,24.9],[-20,24.2],[-3,24],[17,23.7],[-9,23.4],[-28,21.8],[12,21.7],[-4,21.4],[-8,21.2],[-11,21],[23,20.8],[-28,20.4],[-21,20.4],[21,20.2],[-26,20.1],[-16,20],[7,19.9],[26,20.1],[-20,19.5],[15,19.8],[17,19],[14,18.9],[-20,19],[29,18.7],[-13,18.5],[-23,18.1],[-6,18.1],[8,18.2],[0,17.7],[6,17.7],[29,17.8],[-19,17.4],[-2,17.3],[-27,16.7],[-12,16.7],[14,16.8],[20,16.7],[2,16.7],[-8,16.4],[-25,16.2],[17,16.3],[8,16.1],[-21,15.8],[-15,15.8],[-2,16],[-13,15.5],[20,15.5],[12,15.1],
[-28,14.2],[-24,14.6],[-19,14.8],[-14,14.4],[-9,14.9],[-4,14.4],[1,14.7],[6,14.2],[11,14.6],[16,14.1],[23,14.3],[-29,13.6],[-26,13.3],[-21,13.7],[-16,13.1],[-11,13.5],[-6,13.2],[-1,13.8],[3,13.3],[8,13.7],[14,13],[20,13.4],[26,13.2],[-24,12.5],[-18,12.2],[-12,12.6],[-7,12.4],[-3,12.7],[0,12.2],[2,12.6],[5,12.4],[10,12],[16,12.5],[22,12.1],[28,12.4],[-27,11.5],[-21,11.2],[-15,11.6],[-9,11.8],[-5,11.6],[-2,11.3],[1,11.7],[4,11.4],[8,11.1],[13,11.5],[19,11],[25,11.4],[-29,10.3],[-23,10.6],[-17,10.2],[-11,10.5],[-5,10.3],[3,10.6],[9,10.1],[15,10.5],[21,10.2],[27,10.6],[-28,9.4],[-24,9.6],[-19,9.1],[-14,9.6],[-9,9.3],[-3,9.7],[2,9.2],[7,9.6],[12,9.1],[18,9.4],[23,9.1],[29,9.6],[-26,8.8],[-20,8.6],[-15,8.9],[-10,8.7],[-4,8.6],[5,8.9],[10,8.5],[16,8.7],[22,8.4],[26,8.8],
[-4,12.9],[-2,12.1],[0,12.9],[1,12.4],[2,12],[3,11.8],[4,12.8],[-5,11.9],[-3,11.7],[-1,11.2],[0,10.9],[6,13],[-7,13.4],[-10,12.9],[7,12.5],[-14,11.8],[-18,10.9],[-23,9.8],[-20,13],[12,13.4],[15,9.3],[-11,9.9],[-7,9],[2,8.5],[-16,8.3],[6,10.3],[18,11.8],[24,10],[28,11.2],[-12,14.5],
[-25,7.9],[-23,7.3],[-15,6.8],[-10,6.7],[-6,6.4],[-23,6.4],[-21,5.9],[-15,5.5],[4,5.9],[12,6],[10,6.6],[20,7.1],[26,6.8],[19,5.9],[26,5.6],[-4,5.1],[6,5.2],[24,5],[-16,4.6],[21,4.4],[-6,4.2],[-21,3.5],[15,3.2],[23,3.9],[-13,2.4],[12,2.7]];

/* box statistics: [whisker low, q1, median, q3, whisker high] */
const bcrNoStats=[.85,8.2,10.4,13.5,21.3];
const bcrYesStats=[5.85,10.6,13.55,16.6,24.25];
const gleasonLowStats=[.85,7.75,10,13.2,20.9];
const gleasonHighStats=[3.4,9.25,12.2,15.8,24.9];
const nstageLowStats=[.9,8.3,10.8,13.95,21.95];
const nstageHighStats=[5.9,10.3,12.6,16.8,24.2];
const tstageLowStats=[2.2,7.95,9.95,12.4,18.5];
const tstageHighStats=[2.45,8.75,11.9,15,24.2];

const yTicksSurv=[0,.2,.4,.6,.8,1];
const yTicksRisk=[0,10,20,30];
const xTicks5000=[0,1000,2000,3000,4000,5000];
const xTicks3000=[0,1000,2000,3000];
const xTicks2000=[0,500,1000,1500,2000];

/* ---------- Drawing helpers ---------- */
const NS='http://www.w3.org/2000/svg';
const root=document.getElementById('figure');
const BLUE='#0073B5',RED='#DE3B25',BLUE_BAND='#038CC3',RED_BAND='#EB5A4E';
const KEY_BLUE='#A7D7EA',KEY_RED='#F8C5C1';
const BIG={tick:37,title:44,leg:31.5,hr:32,tab:36,tabLabel:37,curve:6,cens:4.5,arm:13,axis:4,tickLen:16,frame:4.5,gap:31,major:6,minor:3};
const SMALL={tick:28,title:33,leg:24,hr:24,tab:30,tabLabel:29,curve:5,cens:3.6,arm:9,axis:3.5,tickLen:13,frame:4,gap:26,major:5,minor:2.5};

function mk(tag,attrs,parent){
  const e=document.createElementNS(NS,tag);
  for(const k in attrs)e.setAttribute(k,attrs[k]);
  parent.appendChild(e);
  return e;
}
function txt(parent,name,str,x,y,size,anchor,fill,rot){
  const bx=rot?x+.36*size:x, by=rot?y:y+.36*size;
  const e=mk('text',{x:bx,y:by,'font-size':size,'text-anchor':anchor||'start',fill:fill||'#000'},parent);
  if(rot)e.setAttribute('transform','rotate(-90 '+bx+' '+by+')');
  
  
  e.textContent=str;
  return e;
}
function ln(parent,name,x1,y1,x2,y2,w,col){
  const e=mk('line',{x1:x1,y1:y1,x2:x2,y2:y2,stroke:col||'#000','stroke-width':w},parent);
  
  
  return e;
}
function stepLine(t,s,end,xs,ys){
  let d='M'+xs(t[0])+' '+ys(s[0]);
  for(let i=1;i<t.length;i++)d+='H'+xs(t[i])+'V'+ys(s[i]);
  return d+'H'+xs(end);
}
function stepBand(t,lo,hi,end,xs,ys){
  let d='M'+xs(t[0])+' '+ys(hi[0]);
  for(let i=1;i<t.length;i++)d+='H'+xs(t[i])+'V'+ys(hi[i]);
  d+='H'+xs(end)+'V'+ys(lo[lo.length-1]);
  for(let i=t.length-1;i>0;i--)d+='H'+xs(t[i])+'V'+ys(lo[i-1]);
  return d+'H'+xs(t[0])+'Z';
}
function survAt(t,s,c){
  let v=s[0];
  for(let i=0;i<t.length;i++)if(t[i]<=c)v=s[i];
  return v;
}
function drawCurve(g,cv,col,st,xs,ys,lastEnd){
  const p=mk('path',{d:stepLine(cv.t,cv.s,lastEnd,xs,ys),fill:'none',stroke:col,'stroke-width':st.curve},g);
  
  
}
function drawCensors(g,cv,col,st,xs,ys){
  cv.c.forEach(function(c){
    const X=xs(c),Y=ys(survAt(cv.t,cv.s,c));
    const m=mk('path',{d:'M'+(X-st.arm)+' '+Y+'H'+(X+st.arm)+'M'+X+' '+(Y-st.arm)+'V'+(Y+st.arm),fill:'none',stroke:col,'stroke-width':st.cens},g);
    
    
  });
}
function drawKmKey(g,x0,x1,yc,h,bandCol,lineCol,st){
  const r=mk('rect',{x:x0,y:yc-h/2,width:x1-x0,height:h,fill:bandCol},g);
  
  
  ln(g,'legend-key-line',x0+2,yc,x1-2,yc,st.curve,lineCol);
  ln(g,'legend-key-cross',(x0+x1)/2,yc-h*.3,(x0+x1)/2,yc+h*.3,st.cens,lineCol);
}
function drawKM(p){
  const st=p.style;
  const g=mk('g',{},root);
  
  
  const xs=function(t){return p.x0+t*(p.xMax-p.x0)/p.tMax;};
  const ys=function(s){return p.y0+s*(p.y1-p.y0);};

  [[p.low,BLUE_BAND],[p.high,RED_BAND]].forEach(function(o){
    const end=Math.max(o[0].t[o[0].t.length-1],o[0].c[o[0].c.length-1]);
    const b=mk('path',{d:stepBand(o[0].t,o[0].lo,o[0].hi,end,xs,ys),fill:o[1],'fill-opacity':.35},g);
    
    
  });
  [[p.low,BLUE],[p.high,RED]].forEach(function(o){
    const end=Math.max(o[0].t[o[0].t.length-1],o[0].c[o[0].c.length-1]);
    drawCurve(g,o[0],o[1],st,xs,ys,end);
    drawCensors(g,o[0],o[1],st,xs,ys);
  });

  ln(g,'y-axis-line',p.L,p.T,p.L,p.B+st.axis/2,st.axis);
  ln(g,'x-axis-line',p.L,p.B,p.R,p.B,st.axis);
  yTicksSurv.forEach(function(v){
    ln(g,'y-tick',p.L-st.tickLen,ys(v),p.L,ys(v),st.axis);
    txt(g,'y-tick-label',v.toFixed(1),p.L-st.gap,ys(v),st.tick,'end');
  });
  p.xTicks.forEach(function(v){
    ln(g,'x-tick',xs(v),p.B,xs(v),p.B+st.tickLen,st.axis);
    txt(g,'x-tick-label',String(v),xs(v),p.tickY,st.tick,'middle');
  });
  txt(g,'y-axis-title','Survival probability',p.ylabX,p.ylabY,st.title,'middle','#000',true);
  txt(g,'x-axis-title',p.xlab||'Time:Days',p.xlabX,p.xlabY,st.title,'middle');
  txt(g,'hazard-ratio-text',p.hr,p.hrX,p.hrY,st.hr);
  txt(g,'log-rank-text',p.logrank,p.hrX,p.logY,st.hr);
  if(p.title)txt(g,'panel-title',p.title,p.xlabX,p.titleY,33.5,'middle');

  /* legend */
  const lg=p.legend;
  txt(g,'legend-title',lg.title,lg.titleX,lg.y,st.leg);
  drawKmKey(g,lg.k1[0],lg.k1[1],lg.y,lg.h,KEY_BLUE,BLUE,st);
  txt(g,'legend-entry-low',lg.t1,lg.t1X,lg.y,st.leg);
  drawKmKey(g,lg.k2[0],lg.k2[1],lg.y,lg.h,KEY_RED,RED,st);
  txt(g,'legend-entry-high',lg.t2,lg.t2X,lg.y,st.leg);

  /* risk table */
  const tb=p.table;
  const tg=mk('g',{},g);
  
  
  const colX=function(i){return tb.col0+i*tb.step;};
  tb.low.forEach(function(_,i){
    ln(tg,'table-grid-major',colX(i),tb.T,colX(i),tb.B,st.major,'#EBEBEB');
    if(colX(i)+tb.step/2<p.tR)ln(tg,'table-grid-minor',colX(i)+tb.step/2,tb.T,colX(i)+tb.step/2,tb.B,st.minor,'#EFEFEF');
  });
  tb.rows.forEach(function(r){ln(tg,'table-grid-row',p.L,r,p.tR,r,st.major,'#EBEBEB');});
  const fr=mk('rect',{x:p.L,y:tb.T,width:p.tR-p.L,height:tb.B-tb.T,fill:'none',stroke:'#000','stroke-width':st.frame},tg);
  
  
  txt(tg,'risk-table-label-low',tb.labels[0],tb.labelEnd,tb.rows[0]-3,st.tabLabel,'end',BLUE);
  txt(tg,'risk-table-label-high',tb.labels[1],tb.labelEnd,tb.rows[1]-3,st.tabLabel,'end',RED);
  tb.low.forEach(function(v,i){txt(tg,'risk-table-count-low',String(v),colX(i),tb.rows[0],st.tab,'middle',BLUE);});
  tb.high.forEach(function(v,i){txt(tg,'risk-table-count-high',String(v),colX(i),tb.rows[1],st.tab,'middle',RED);});
}
function drawBox(p){
  const g=mk('g',{},root);
  
  
  const ys=function(v){return p.y0+v*(p.y30-p.y0)/30;};
  const groups=[
    {cx:p.cats[0],pts:p.pts[0],st:p.stats[0],dot:'#0079BA',fill:'#E0EEF7',lab:p.labels[0]},
    {cx:p.cats[1],pts:p.pts[1],st:p.stats[1],dot:'#E0472F',fill:'#FDEBE9',lab:p.labels[1]}];
  const sp=p.cats[1]-p.cats[0];
  groups.forEach(function(o){
    const b=mk('rect',{x:o.cx-p.hw,y:ys(o.st[3]),width:2*p.hw,height:ys(o.st[1])-ys(o.st[3]),fill:o.fill},g);
    
    
    ln(g,'whisker-upper',o.cx,ys(o.st[4]),o.cx,ys(o.st[3]),4);
    ln(g,'whisker-lower',o.cx,ys(o.st[1]),o.cx,ys(o.st[0]),4);
    o.pts.forEach(function(q){
      const c=mk('circle',{cx:o.cx+q[0]/100*sp,cy:ys(q[1]),r:9.5,fill:o.dot,'fill-opacity':.96},g);
      
      
    });
    const r=mk('rect',{x:o.cx-p.hw,y:ys(o.st[3]),width:2*p.hw,height:ys(o.st[1])-ys(o.st[3]),fill:'none',stroke:'#000','stroke-width':5,'stroke-opacity':.85},g);
    
    
    ln(g,'box-median',o.cx-p.hw,ys(o.st[2]),o.cx+p.hw,ys(o.st[2]),10).setAttribute('stroke-opacity','.92');
    ln(g,'x-tick',o.cx,p.B,o.cx,p.B+18,4);
    txt(g,'x-tick-label',o.lab,o.cx,p.labelY,38,'middle');
  });
  ln(g,'y-axis-line',p.L,p.T,p.L,p.B+2,4);
  ln(g,'x-axis-line',p.L,p.B,p.R,p.B,4);
  yTicksRisk.forEach(function(v){
    ln(g,'y-tick',p.L-17,ys(v),p.L,ys(v),4);
    txt(g,'y-tick-label',String(v),p.L-33,ys(v),38,'end');
  });
  txt(g,'y-axis-title','Risk score',p.ylabX,p.ylabY,45,'middle','#000',true);
  const br=mk('path',{d:'M'+p.cats[0]+' '+(p.bracketY+16)+'V'+p.bracketY+'H'+p.cats[1]+'V'+(p.bracketY+16),fill:'none',stroke:'#000','stroke-width':3},g);
  
  
  txt(g,'significance-stars','***',(p.cats[0]+p.cats[1])/2,p.bracketY-13,28,'middle');

  const lg=p.legend;
  txt(g,'legend-title',lg.title,lg.titleX,lg.y,32);
  [[lg.k1,'#E0EEF7','#0079BA',lg.t1,lg.t1X],[lg.k2,'#FDEBE9','#E0472F',lg.t2,lg.t2X]].forEach(function(o){
    const cx=o[0]+19.5;
    ln(g,'legend-key-whisker',cx,lg.y-22,cx,lg.y+22,3.5);
    const r=mk('rect',{x:o[0],y:lg.y-14,width:39,height:28,fill:o[1],stroke:'#000','stroke-width':4.5},g);
    
    
    ln(g,'legend-key-median',o[0],lg.y,o[0]+39,lg.y,6);
    const c=mk('circle',{cx:cx,cy:lg.y,r:8,fill:o[2]},g);
    
    
    txt(g,'legend-entry',o[3],o[4],lg.y,32);
  });
}
function cv(t,s,lo,hi,c){return {t:t,s:s,lo:lo,hi:hi,c:c};}

/* ---------- Panel letters ---------- */
[['A',64,141,125],['B',64,1090,125],['C',58,3225,122],['D',2004,3224,122],['E',64,4018,122],['F',2013,4018,122]].forEach(function(o){
  const e=mk('text',{x:o[1],y:o[2],'font-size':o[3],fill:'#000'},root);
  
  
  e.textContent=o[0];
});

/* ---------- Panel A ---------- */
drawKM({name:'km-gleason-score',style:BIG,L:323,T:163,B:704,R:1211,tR:1211,x0:365,xMax:1167.5,tMax:5000,y1:186,y0:679,xTicks:xTicks5000,tickY:750,xlabX:767,xlabY:807,ylabX:197,ylabY:432,
  hr:'HR = 6.17 (3.59−10.59)',logrank:'Log−rank P < 0.001',hrX:363,hrY:623,logY:671,
  low:cv(a1LowT,a1LowS,a1LowLo,a1LowHi,a1LowC),high:cv(a1HighT,a1HighS,a1HighLo,a1HighHi,a1HighC),
  legend:{y:135,h:37,title:'Gleason score',titleX:512,k1:[740,802],t1:'<=7',t1X:825,k2:[902,965],t2:'>7',t2X:987},
  table:{T:837,B:982,rows:[877,942],col0:365,step:161,labels:['<=7','>7'],labelEnd:292,low:a1LowN,high:a1HighN}});
drawKM({name:'km-n-stage',style:BIG,L:1592,T:160,B:704,R:2483,tR:2486,x0:1632.5,xMax:2439,tMax:5000,y1:185,y0:679.5,xTicks:xTicks5000,tickY:750,xlabX:2038,xlabY:807,ylabX:1464,ylabY:431,
  hr:'HR = 2.03 (0.98−4.22)',logrank:'Log−rank P = 0.017',hrX:1633,hrY:624,logY:667,
  low:cv(a2LowT,a2LowS,a2LowLo,a2LowHi,a2LowC),high:cv(a2HighT,a2HighS,a2HighLo,a2HighHi,a2HighC),
  legend:{y:133,h:37,title:'N stage',titleX:1834,k1:[1966,2030],t1:'N0',t1X:2053,k2:[2116,2179],t2:'N1',t2X:2201},
  table:{T:839,B:984,rows:[878,943],col0:1632.5,step:162,labels:['N0','N1'],labelEnd:1560,low:a2LowN,high:a2HighN}});
drawKM({name:'km-t-stage',style:BIG,L:2866,T:163,B:705.6,R:3754,tR:3756,x0:2905.6,xMax:3711,tMax:5000,y1:187,y0:681,xTicks:xTicks5000,tickY:753,xlabX:3310,xlabY:809,ylabX:2737,ylabY:433,
  hr:'HR = 6.58 (3.83−11.29)',logrank:'Log−rank P < 0.001',hrX:2906,hrY:625,logY:674,
  low:cv(a3LowT,a3LowS,a3LowLo,a3LowHi,a3LowC),high:cv(a3HighT,a3HighS,a3HighLo,a3HighHi,a3HighC),
  legend:{y:135,h:37,title:'T stage',titleX:3069,k1:[3199,3261],t1:'TI−II',t1X:3285,k2:[3373,3435],t2:'TIII−IV',t2X:3458},
  table:{T:841,B:985,rows:[880,945],col0:2905.6,step:161.8,labels:['TI-II','TIII-IV'],labelEnd:2825,low:a3LowN,high:a3HighN}});

/* ---------- Panel B ---------- */
drawBox({name:'box-bcr',L:251,T:1165,B:1937,R:1008,y30:1189,y0:1799,cats:[457.6,802.7],hw:137.5,labels:['NO','YES'],labelY:1986,ylabX:131,ylabY:1550,bracketY:1200,
  pts:[bcrNoPoints,bcrYesPoints],stats:[bcrNoStats,bcrYesStats],
  legend:{y:1137.5,title:'BCR',titleX:455.5,k1:546,t1:'NO',t1X:608,k2:679,t2:'YES',t2X:741}});
drawBox({name:'box-gleason-score',L:1419,T:1165,B:1937,R:2176,y30:1189,y0:1799,cats:[1625,1969.5],hw:138,labels:['<=7','>7'],labelY:1986,ylabX:1296,ylabY:1550,bracketY:1200,
  pts:[gleasonLowPoints,gleasonHighPoints],stats:[gleasonLowStats,gleasonHighStats],
  legend:{y:1137.5,title:'Gleason score',titleX:1560,k1:1794.6,t1:'<=7',t1X:1857.6,k2:1936,t2:'>7',t2X:1997}});
drawBox({name:'box-n-stage',L:251.6,T:2215,B:2988,R:1007,y30:2240,y0:2851,cats:[457,803],hw:138,labels:['N0','N1'],labelY:3036,ylabX:131,ylabY:2600,bracketY:2250,
  pts:[nstageLowPoints,nstageHighPoints],stats:[nstageLowStats,nstageHighStats],
  legend:{y:2187.5,title:'N stage',titleX:448,k1:583,t1:'N0',t1X:645,k2:711,t2:'N1',t2X:771}});
drawBox({name:'box-t-stage',L:1418,T:2215,B:2988,R:2175,y30:2240,y0:2851,cats:[1624,1968],hw:138,labels:['T2','T3+T4'],labelY:3036,ylabX:1298,ylabY:2600,bracketY:2250,
  pts:[tstageLowPoints,tstageHighPoints],stats:[tstageLowStats,tstageHighStats],
  legend:{y:2187.5,title:'T stage',titleX:1590,k1:1723,t1:'T2',t1X:1786,k2:1846,t2:'T3+T4',t2X:1908}});

/* ---------- Panels C and D ---------- */
const riskLabels=['Low−risk','High−risk'];
drawKM({name:'km-gleason-low',style:SMALL,title:'Gleason score <=7',titleY:3197,L:293,T:3258,B:3640,R:933,tR:933,x0:321,xMax:901.5,tMax:5000,y1:3276,y0:3623.4,xTicks:xTicks5000,tickY:3676,xlabX:612,xlabY:3719.5,ylabX:194,ylabY:3449,
  hr:'HR = 1.68 (0.51−5.57)',logrank:'Log−rank P = 0.385',hrX:321,hrY:3581,logY:3615.5,
  low:cv(c1LowT,c1LowS,c1LowLo,c1LowHi,c1LowC),high:cv(c1HighT,c1HighS,c1HighLo,c1HighHi,c1HighC),
  legend:{y:3238,h:27,title:'Risk',titleX:407,k1:[471,521],t1:'Low−risk',t1X:537,k2:[651,699],t2:'High−risk',t2X:716},
  table:{T:3743,B:3845,rows:[3770.6,3817],col0:321.7,step:116.1,labels:riskLabels,labelEnd:269,low:c1LowN,high:c1HighN}});
drawKM({name:'km-gleason-high',style:SMALL,title:'Gleason score >7',titleY:3197,L:1201,T:3258,B:3640,R:1842,tR:1842,x0:1229,xMax:1710,tMax:3000,y1:3276,y0:3623.4,xTicks:xTicks3000,tickY:3676,xlabX:1521,xlabY:3719.5,ylabX:1103,ylabY:3449,
  hr:'HR = 2.86 (1.58−5.21)',logrank:'Log−rank P = 0.003',hrX:1230,hrY:3581,logY:3615.5,
  low:cv(c2LowT,c2LowS,c2LowLo,c2LowHi,c2LowC),high:cv(c2HighT,c2HighS,c2HighLo,c2HighHi,c2HighC),
  legend:{y:3238,h:27,title:'Risk',titleX:1315,k1:[1379,1429],t1:'Low−risk',t1X:1444,k2:[1558,1608],t2:'High−risk',t2X:1624},
  table:{T:3743,B:3845,rows:[3770.6,3817],col0:1229,step:145.7,labels:riskLabels,labelEnd:1178,low:c2LowN,high:c2HighN}});
drawKM({name:'km-n-stage-n0',style:SMALL,title:'N stage:N0',titleY:3197,L:2241,T:3258,B:3640,R:2880.6,tR:2880.6,x0:2270,xMax:2848,tMax:5000,y1:3276,y0:3623.4,xTicks:xTicks5000,tickY:3676,xlabX:2562,xlabY:3719.5,ylabX:2144,ylabY:3449,
  hr:'HR = 4.90 (2.59−9.26)',logrank:'Log−rank P < 0.001',hrX:2270,hrY:3581,logY:3615.5,
  low:cv(d1LowT,d1LowS,d1LowLo,d1LowHi,d1LowC),high:cv(d1HighT,d1HighS,d1HighLo,d1HighHi,d1HighC),
  legend:{y:3238,h:27,title:'Risk',titleX:2356,k1:[2420,2469],t1:'Low−risk',t1X:2484,k2:[2598,2647],t2:'High−risk',t2X:2664},
  table:{T:3743,B:3845,rows:[3770.6,3817],col0:2270,step:116.3,labels:riskLabels,labelEnd:2219,low:d1LowN,high:d1HighN}});
drawKM({name:'km-n-stage-n1',style:SMALL,title:'N stage:N1',titleY:3197,L:3148,T:3258,B:3640,R:3789,tR:3789,x0:3177,xMax:3707,tMax:2000,y1:3276,y0:3623.4,xTicks:xTicks2000,tickY:3676,xlabX:3468,xlabY:3719.5,ylabX:3050,ylabY:3449,
  hr:'HR = 0.56 (0.19−1.65)',logrank:'Log−rank P = 0.253',hrX:3177,hrY:3581,logY:3616,
  low:cv(d2LowT,d2LowS,d2LowLo,d2LowHi,d2LowC),high:cv(d2HighT,d2HighS,d2HighLo,d2HighHi,d2HighC),
  legend:{y:3238,h:27,title:'Risk',titleX:3262,k1:[3328,3376],t1:'Low−risk',t1X:3392,k2:[3507,3555],t2:'High−risk',t2X:3571},
  table:{T:3743,B:3845,rows:[3770.6,3817],col0:3177,step:145.4,labels:riskLabels,labelEnd:3129,low:d2LowN,high:d2HighN}});

/* ---------- Panels E and F ---------- */
drawKM({name:'km-t-stage-early',style:SMALL,title:'T stage:TI-II',titleY:3990,L:288,T:4053.5,B:4435.5,R:928,tR:928,x0:317.5,xMax:896.7,tMax:5000,y1:4070.5,y0:4418.5,xTicks:xTicks5000,tickY:4471,xlabX:609.5,xlabY:4513.5,ylabX:191.5,ylabY:4243.5,
  hr:'HR = 2.14 (0.36−12.69)',logrank:'Log−rank P = 0.388',hrX:317.5,hrY:4376,logY:4412.5,
  low:cv(e1LowT,e1LowS,e1LowLo,e1LowHi,e1LowC),high:cv(e1HighT,e1HighS,e1HighLo,e1HighHi,e1HighC),
  legend:{y:4033,h:28,title:'Risk',titleX:403.5,k1:[468,517],t1:'Low−risk',t1X:533,k2:[647,695.5],t2:'High−risk',t2X:711},
  table:{T:4536,B:4637,rows:[4563.5,4609.5],col0:317.5,step:116,labels:riskLabels,labelEnd:266.5,low:e1LowN,high:e1HighN}});
drawKM({name:'km-t-stage-late',style:SMALL,title:'T stage:TIII-IV',titleY:3990,L:1203,T:4053.5,B:4435.5,R:1844,tR:1844,x0:1232,xMax:1713,tMax:3000,y1:4070.5,y0:4418.5,xTicks:xTicks3000,tickY:4471,xlabX:1525.5,xlabY:4513.5,ylabX:1106,ylabY:4243.5,
  hr:'HR = 2.65 (1.52−4.62)',logrank:'Log−rank P = 0.002',hrX:1232,hrY:4376,logY:4412.5,
  low:cv(e2LowT,e2LowS,e2LowLo,e2LowHi,e2LowC),high:cv(e2HighT,e2HighS,e2HighLo,e2HighHi,e2HighC),
  legend:{y:4033,h:28,title:'Risk',titleX:1318,k1:[1382.5,1431],t1:'Low−risk',t1X:1448,k2:[1562,1610],t2:'High−risk',t2X:1626},
  table:{T:4536,B:4637,rows:[4563.5,4609.5],col0:1232,step:145.4,labels:riskLabels,labelEnd:1181,low:e2LowN,high:e2HighN}});
drawKM({name:'km-age-young',style:SMALL,title:'Age<=65',titleY:3990,L:2242,T:4053.5,B:4435.5,R:2882,tR:2882,x0:2270,xMax:2850,tMax:5000,y1:4070.5,y0:4418.5,xTicks:xTicks5000,tickY:4471,xlabX:2562,xlabY:4513.5,ylabX:2144,ylabY:4243.5,
  hr:'HR = 3.84 (2.15−6.86)',logrank:'Log−rank P < 0.001',hrX:2270,hrY:4376,logY:4413.5,
  low:cv(f1LowT,f1LowS,f1LowLo,f1LowHi,f1LowC),high:cv(f1HighT,f1HighS,f1HighLo,f1HighHi,f1HighC),
  legend:{y:4033,h:28,title:'Risk',titleX:2357,k1:[2421,2469],t1:'Low−risk',t1X:2487,k2:[2601,2648],t2:'High−risk',t2X:2665},
  table:{T:4536,B:4637,rows:[4563.5,4609.5],col0:2270,step:116.2,labels:riskLabels,labelEnd:2219,low:f1LowN,high:f1HighN}});
drawKM({name:'km-age-old',style:SMALL,title:'Age>65',titleY:3990,xlab:'Time',L:3146,T:4056,B:4433.5,R:3792,tR:3792,x0:3175,xMax:3685,tMax:3000,y1:4072,y0:4417,xTicks:xTicks3000,tickY:4470,xlabX:3468,xlabY:4512.5,ylabX:3047,ylabY:4243.5,
  hr:'HR = 1.63 (0.44−6.06)',logrank:'Log−rank P = 0.485',hrX:3175,hrY:4373.5,logY:4410,
  low:cv(f2LowT,f2LowS,f2LowLo,f2LowHi,f2LowC),high:cv(f2HighT,f2HighS,f2HighLo,f2HighHi,f2HighC),
  legend:{y:4034,h:28,title:'Risk',titleX:3259,k1:[3325,3375],t1:'Low−risk',t1X:3391,k2:[3507,3555],t2:'High−risk',t2X:3574},
  table:{T:4536.5,B:4635.5,rows:[4563,4608.5],col0:3175,step:195,labels:riskLabels,labelEnd:3122,low:f2LowN,high:f2HighN}});
</script>
</body>
</html>
